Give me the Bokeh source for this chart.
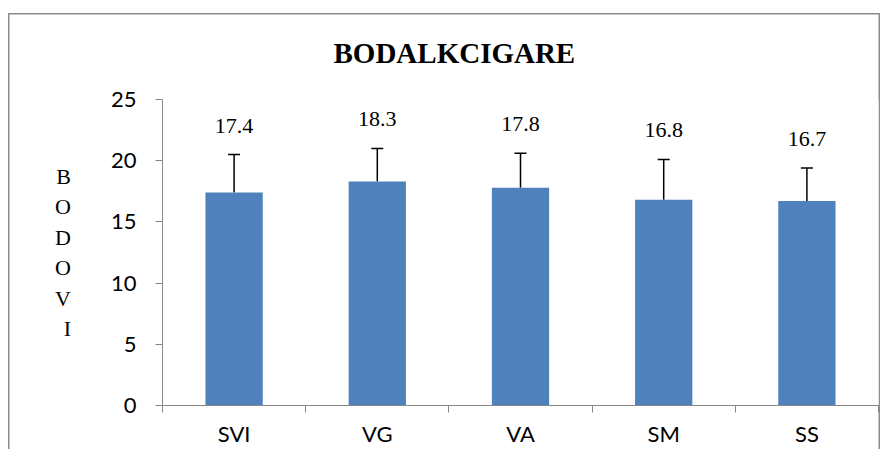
from bokeh.plotting import figure
from bokeh.models import (ColumnDataSource, Whisker, TeeHead, LabelSet, FixedTicker, Range1d)
from bokeh.embed import file_html
from bokeh.resources import INLINE

categories = ["SVI", "VG", "VA", "SM", "SS"]
values = [17.4, 18.3, 17.8, 16.8, 16.7]
errors = [3.1, 2.7, 2.8, 3.3, 2.7]
y_ticks = [0, 5, 10, 15, 20, 25]
title_text = "BODALKCIGARE"
y_label = "BODOVI"

xs = [i + 0.5 for i in range(len(categories))]
upper = [v + e for v, e in zip(values, errors)]
src = ColumnDataSource(dict(x=xs, value=values, upper=upper,
                            label=[f"{v:.1f}" for v in values]))

AXIS = "#868686"
EDGE = "#8c8c8c"
W, H = 888, 449
p = figure(width=W, height=H, output_backend="svg", toolbar_location=None,
           x_range=Range1d(0, len(categories)), y_range=Range1d(0, 25),
           min_border_left=162, min_border_right=10, min_border_top=99, min_border_bottom=44)
p.outline_line_color = None
p.xgrid.visible = False
p.ygrid.visible = False
p.background_fill_color = "white"
p.border_fill_color = None

# outer chart-area border (left, top, right) drawn as layered inset shadows
p.styles = {
    "background-color": "white",
    "box-shadow": (f"inset 8px 13px 0 0 white, inset -{W - 880}px 0 0 0 white, "
                   f"inset -{W - 878.5}px 0 0 0 {EDGE}, inset 9.5px 14.5px 0 0 {EDGE}"),
}

p.vbar(x="x", top="value", width=0.4, bottom=0, source=src,
       fill_color="#4F81BD", line_color=None)

w = Whisker(base="x", upper="upper", lower="value", source=src, dimension="height",
            line_color="black", line_width=1.5,
            upper_head=TeeHead(size=12, line_color="black", line_width=1.5),
            lower_head=None)
p.add_layout(w)

labels = LabelSet(x="x", y="upper", text="label", source=src, y_offset=29,
                  text_align="center", text_baseline="middle",
                  text_font="Lato", text_font_size="22px", text_color="black")
p.add_layout(labels)

p.title.text = title_text
p.title.text_font = "Liberation Serif"
p.title.text_font_style = "bold"
p.title.text_font_size = "29px"
p.title.text_color = "black"
p.title.align = "left"
p.title.vertical_align = "middle"
p.title.offset = 171
p.title.standoff = 60

ya = p.yaxis[0]
ya.ticker = FixedTicker(ticks=y_ticks)
ya.axis_line_color = AXIS
ya.major_tick_line_color = AXIS
ya.major_tick_out = 7
ya.major_tick_in = 0
ya.minor_tick_line_color = None
ya.major_label_standoff = 19
ya.major_label_text_font = "Lato"
ya.major_label_text_font_size = "22px"
ya.major_label_text_color = "black"
ya.axis_label = "\n".join(list(y_label))
ya.axis_label_orientation = "horizontal"
ya.axis_label_text_font = "Liberation Serif"
ya.axis_label_text_font_style = "normal"
ya.axis_label_text_font_size = "22px"
ya.axis_label_text_line_height = 1.22
ya.axis_label_text_align = "center"
ya.axis_label_text_color = "black"
ya.axis_label_standoff = 37

xa = p.xaxis[0]
xa.ticker = FixedTicker(ticks=xs, minor_ticks=list(range(len(categories) + 1)))
xa.major_label_overrides = {x: c for x, c in zip(xs, categories)}
xa.axis_line_color = AXIS
xa.major_tick_out = 0
xa.major_tick_in = 0
xa.major_tick_line_color = None
xa.minor_tick_line_color = AXIS
xa.minor_tick_out = 7
xa.minor_tick_in = 0
xa.major_label_standoff = 7
xa.major_label_text_font = "Lato"
xa.major_label_text_font_size = "22px"
xa.major_label_text_color = "black"

open("out.html", "w").write(file_html(p, INLINE))
